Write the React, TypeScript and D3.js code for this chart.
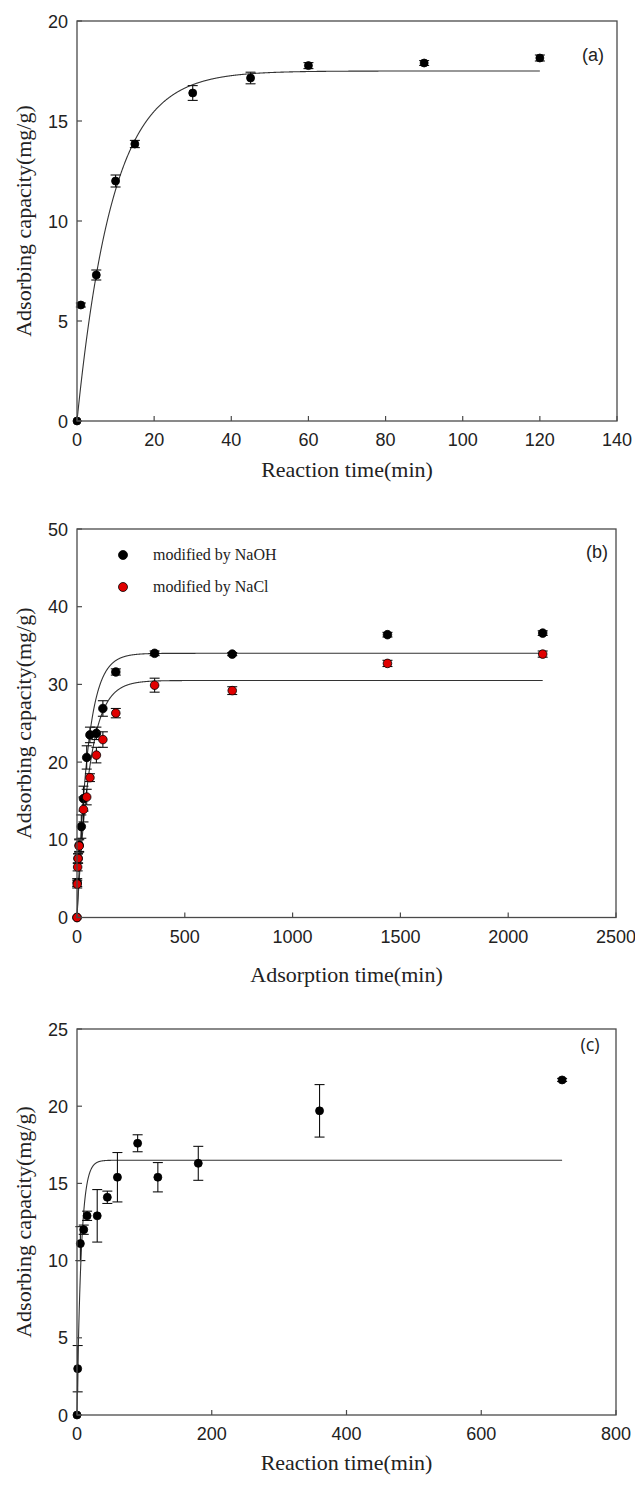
import React from 'react';
import * as d3 from 'd3';

// ---------- Panel (a) ----------
const timeA = [0, 1, 5, 10, 15, 30, 45, 60, 90, 120];
const capA = [0, 5.8, 7.3, 12.0, 13.85, 16.4, 17.15, 17.77, 17.9, 18.15];
const errA = [0, 0.1, 0.25, 0.3, 0.18, 0.37, 0.29, 0.15, 0.12, 0.15];
const fitA = { qe: 17.5, k: 0.108, tEnd: 120 };
const xTicksA = [0, 20, 40, 60, 80, 100, 120, 140];
const yTicksA = [0, 5, 10, 15, 20];

// ---------- Panel (b) ----------
const timeNaOH = [0, 1, 5, 10, 20, 30, 45, 60, 90, 120, 180, 360, 720, 1440, 2160];
const capNaOH = [0, 4.5, 7.6, 9.3, 11.7, 15.3, 20.6, 23.5, 23.7, 26.9, 31.6, 34.0, 33.9, 36.4, 36.6];
const errNaOH = [0, 0.5, 0.6, 0.8, 1.5, 1.6, 1.5, 1.0, 0.8, 1.0, 0.4, 0.3, 0.2, 0.3, 0.3];
const timeNaCl = [0, 1, 3, 5, 10, 30, 45, 60, 90, 120, 180, 360, 720, 1440, 2160];
const capNaCl = [0, 4.3, 6.5, 7.6, 9.2, 13.9, 15.5, 18.0, 20.9, 22.9, 26.3, 29.9, 29.2, 32.7, 33.9];
const errNaCl = [0, 0.5, 0.5, 0.6, 0.8, 1.6, 1.0, 0.5, 1.0, 1.0, 0.6, 0.9, 0.5, 0.4, 0.4];
const fitNaOH = { qe: 34.0, k: 0.02, tEnd: 2160 };
const fitNaCl = { qe: 30.5, k: 0.017, tEnd: 2160 };
const xTicksB = [0, 500, 1000, 1500, 2000, 2500];
const yTicksB = [0, 10, 20, 30, 40, 50];
const legendLabels = ['modified by NaOH', 'modified by NaCl'];

// ---------- Panel (c) ----------
const timeC = [0, 1, 5, 10, 15, 30, 45, 60, 90, 120, 180, 360, 720];
const capC = [0, 3.0, 11.1, 12.0, 12.9, 12.9, 14.1, 15.4, 17.6, 15.4, 16.3, 19.7, 21.7];
const errC = [0, 1.5, 1.1, 0.3, 0.3, 1.7, 0.4, 1.6, 0.55, 0.95, 1.1, 1.7, 0.1];
const fitC = { qe: 16.5, k: 0.16, tEnd: 720 };
const xTicksC = [0, 200, 400, 600, 800];
const yTicksC = [0, 5, 10, 15, 20, 25];

const yTitle = 'Adsorbing capacity(mg/g)';

const SERIF = "'Liberation Serif','Times New Roman',Times,serif";
const SANS = "'Liberation Sans',Arial,Helvetica,sans-serif";
const AXIS = '#4a4a4a';

type Series = { t: number[]; q: number[]; e: number[]; fill: string; r: number };
type Fit = { qe: number; k: number; tEnd: number };

function fitPoints(f: Fit) {
  // pseudo-first-order model q = qe (1 - exp(-k t)), evaluated along t
  const n = 1500;
  const pts: [number, number][] = [];
  for (let i = 0; i <= n; i++) {
    const u = i / n;
    const t = f.tEnd * u * u; // denser near t = 0
    pts.push([t, f.qe * (1 - Math.exp(-f.k * t))]);
  }
  return pts;
}

function Panel(props: {
  x0: number; x1: number; y0: number; y1: number;
  xMax: number; yMax: number; xTicks: number[]; yTicks: number[];
  xTitle: string; xTitleY: number; label: string; labelX: number; labelY: number;
  series: Series[]; fits: Fit[]; labelFont?: string;
}) {
  const { x0, x1, y0, y1 } = props;
  const x = d3.scaleLinear().domain([0, props.xMax]).range([x0, x1]);
  const y = d3.scaleLinear().domain([0, props.yMax]).range([y1, y0]);
  const line = d3.line<[number, number]>().x(d => x(d[0])).y(d => y(d[1]));
  const tick = 5;
  const cap = 5;
  return (
    <g>
      {props.fits.map((f, i) => (
        <path key={'f' + i} d={line(fitPoints(f)) || ''} fill="none" stroke="#333" strokeWidth={1.1} />
      ))}
      {props.series.map((s, si) => (
        <g key={'s' + si}>
          {s.t.map((t, i) => {
            const cx = x(t), cy = y(s.q[i]);
            const e = s.e[i];
            return (
              <g key={i}>
                {e > 0 && (
                  <g stroke="#111" strokeWidth={1.1}>
                    <line x1={cx} x2={cx} y1={y(s.q[i] - e)} y2={y(s.q[i] + e)} />
                    <line x1={cx - cap} x2={cx + cap} y1={y(s.q[i] - e)} y2={y(s.q[i] - e)} />
                    <line x1={cx - cap} x2={cx + cap} y1={y(s.q[i] + e)} y2={y(s.q[i] + e)} />
                  </g>
                )}
                <circle cx={cx} cy={cy} r={s.r} fill={s.fill} stroke="#000" strokeWidth={0.8} />
              </g>
            );
          })}
        </g>
      ))}
      <rect x={x0} y={y0} width={x1 - x0} height={y1 - y0} fill="none" stroke={AXIS} strokeWidth={1.3} />
      {props.xTicks.map(v => (
        <g key={'xt' + v}>
          <line x1={x(v)} x2={x(v)} y1={y1} y2={y1 - tick} stroke={AXIS} strokeWidth={1.2} />
          <text x={x(v)} y={y1 + 25} textAnchor="middle" fontFamily={SANS} fontSize={18} fill="#222">{v}</text>
        </g>
      ))}
      {props.yTicks.map(v => (
        <g key={'yt' + v}>
          <line x1={x0} x2={x0 + tick} y1={y(v)} y2={y(v)} stroke={AXIS} strokeWidth={1.2} />
          <text x={x0 - 9} y={y(v) + 6.5} textAnchor="end" fontFamily={SANS} fontSize={18} fill="#222">{v}</text>
        </g>
      ))}
      <text x={(x0 + x1) / 2} y={props.xTitleY} textAnchor="middle" fontFamily={SERIF} fontSize={22} fill="#222">{props.xTitle}</text>
      <text transform={`translate(31,${(y0 + y1) / 2}) rotate(-90)`} textAnchor="middle" fontFamily={SERIF} fontSize={22} fill="#222">{yTitle}</text>
      <text x={props.labelX} y={props.labelY} textAnchor="middle" fontFamily={props.labelFont || SANS} fontSize={18} fill="#222">{props.label}</text>
    </g>
  );
}

export default function App() {
  return (
    <svg width={635} height={1486} style={{ position: 'absolute', left: 0, top: 0, background: '#fff' }}>
      <rect x={0} y={0} width={635} height={1486} fill="#fff" />
      <Panel x0={77} x1={617} y0={21} y1={421} xMax={140} yMax={20}
        xTicks={xTicksA} yTicks={yTicksA} xTitle="Reaction time(min)" xTitleY={477}
        label="(a)" labelX={593} labelY={61}
        series={[{ t: timeA, q: capA, e: errA, fill: '#000', r: 4 }]} fits={[fitA]} />
      <Panel x0={77} x1={616} y0={529} y1={917.5} xMax={2500} yMax={50}
        xTicks={xTicksB} yTicks={yTicksB} xTitle="Adsorption time(min)" xTitleY={982}
        label="(b)" labelX={597} labelY={558}
        series={[
          { t: timeNaOH, q: capNaOH, e: errNaOH, fill: '#000', r: 4.3 },
          { t: timeNaCl, q: capNaCl, e: errNaCl, fill: '#e00000', r: 4.3 },
        ]} fits={[fitNaOH, fitNaCl]} />
      <g>
        <circle cx={123} cy={555} r={4.5} fill="#000" stroke="#000" strokeWidth={0.8} />
        <text x={153} y={560} fontFamily={SERIF} fontSize={16} fill="#222">{legendLabels[0]}</text>
        <circle cx={123} cy={587} r={4.5} fill="#e00000" stroke="#000" strokeWidth={0.8} />
        <text x={153} y={592} fontFamily={SERIF} fontSize={16} fill="#222">{legendLabels[1]}</text>
      </g>
      <Panel x0={77} x1={616} y0={1029} y1={1415} xMax={800} yMax={25}
        xTicks={xTicksC} yTicks={yTicksC} xTitle="Reaction time(min)" xTitleY={1470}
        label="(c)" labelX={590} labelY={1051} labelFont="'Open Sans',sans-serif"
        series={[{ t: timeC, q: capC, e: errC, fill: '#000', r: 4 }]} fits={[fitC]} />
    </svg>
  );
}
